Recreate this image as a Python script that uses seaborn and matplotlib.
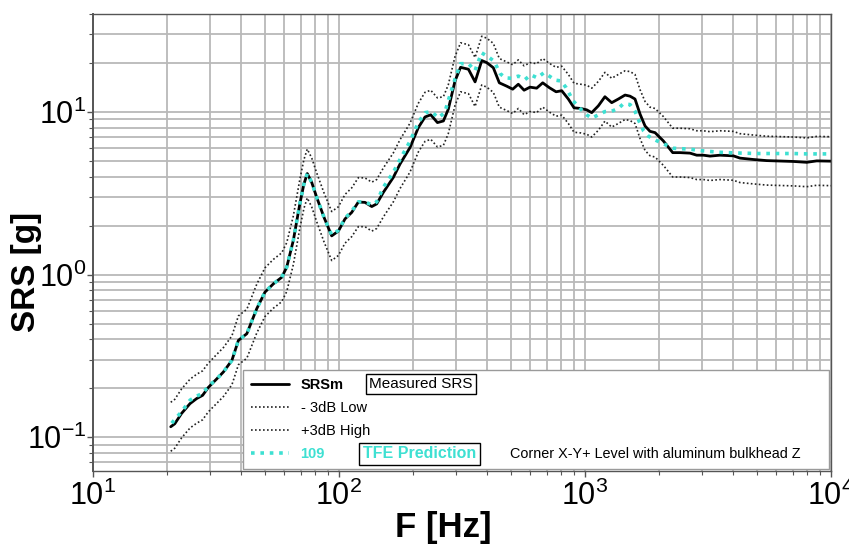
import numpy as np
import pandas as pd
import matplotlib
matplotlib.use("Agg")
import matplotlib.pyplot as plt
import seaborn as sns
from matplotlib.lines import Line2D
from matplotlib.ticker import LogLocator, NullFormatter

# ---------------- data ----------------
freq_m = [20.7, 21.5, 22.9, 24.8, 26.4, 27.9, 29.4, 31.9, 33.9, 36.7, 39.0, 42.2,
          46.3, 50.0, 54.1, 58.5, 61.3, 65.2, 69.3, 72.0, 74.3, 77.5, 81.2, 86.9,
          93.4, 99.4, 105.8, 112.6, 119.8, 127.5, 135.9, 142.3, 151.4, 166.3, 177.0,
          194.4, 210.1, 223.7, 236.0, 251.3, 265.7, 278.2, 296.2, 312.0, 335.9, 357.4,
          380.5, 398.6, 423.9, 448.4, 480.6, 508.3, 535.7, 565.4, 597.6, 636.1, 673.2,
          716.1, 762.8, 804.4, 855.7, 902.3, 961.0, 1016, 1065, 1133, 1205, 1284, 1366,
          1455, 1524, 1597, 1674, 1754, 1837, 1926, 2081, 2273, 2434, 2672, 2845, 3027,
          3222, 3539, 4010, 4266, 4831, 5479, 6211, 7034, 7962, 8750, 10000]

srs_measured = [0.116, 0.121, 0.140, 0.161, 0.173, 0.181, 0.202, 0.229, 0.252, 0.297,
                0.394, 0.433, 0.617, 0.780, 0.877, 0.962, 1.11, 1.62, 2.72, 3.60, 4.18,
                3.68, 2.98, 2.25, 1.73, 1.85, 2.20, 2.41, 2.79, 2.78, 2.62, 2.72, 3.20,
                3.96, 4.78, 6.04, 8.01, 9.31, 9.60, 8.60, 8.80, 10.4, 15.5, 18.8, 18.3,
                15.3, 20.7, 20.1, 18.7, 15.1, 14.4, 13.8, 14.8, 13.6, 14.2, 14.0, 15.1,
                14.1, 13.3, 13.5, 12.0, 10.6, 10.5, 10.3, 9.9, 10.9, 12.4, 11.4, 12.0,
                12.7, 12.5, 12.0, 9.7, 8.2, 7.6, 7.46, 6.64, 5.62, 5.62, 5.58, 5.42, 5.42,
                5.35, 5.42, 5.37, 5.20, 5.10, 5.02, 4.99, 4.96, 4.90, 5.00, 4.98]

srs_low = [0.082, 0.0856, 0.099, 0.114, 0.122, 0.128, 0.143, 0.162, 0.178, 0.210,
           0.279, 0.306, 0.437, 0.552, 0.621, 0.681, 0.786, 1.15, 1.92, 2.55, 2.96,
           2.60, 2.11, 1.59, 1.22, 1.31, 1.56, 1.71, 1.97, 1.97, 1.85, 1.92, 2.26,
           2.80, 3.38, 4.27, 5.67, 6.59, 6.79, 6.09, 6.23, 7.36, 10.97, 13.3, 12.95,
           10.8, 14.65, 14.2, 13.2, 10.7, 10.2, 9.77, 10.5, 9.62, 10.05, 9.91, 10.7,
           9.98, 9.41, 9.55, 8.49, 7.50, 7.43, 7.29, 7.01, 7.71, 8.78, 8.07, 8.49,
           8.99, 8.85, 8.49, 6.86, 5.80, 5.38, 5.28, 4.70, 3.98, 3.98, 3.95, 3.84, 3.84,
           3.79, 3.84, 3.80, 3.68, 3.61, 3.55, 3.53, 3.51, 3.47, 3.54, 3.52]

srs_high = [0.164, 0.171, 0.198, 0.2275, 0.244, 0.256, 0.285, 0.324, 0.356, 0.420,
            0.557, 0.612, 0.872, 1.10, 1.24, 1.36, 1.57, 2.29, 3.84, 5.09, 5.91,
            5.20, 4.21, 3.18, 2.44, 2.61, 3.11, 3.41, 3.94, 3.93, 3.70, 3.84, 4.52,
            5.60, 6.75, 8.53, 11.3, 13.2, 13.6, 12.2, 12.4, 14.7, 21.9, 26.6, 25.9,
            21.6, 29.2, 28.4, 26.4, 21.3, 20.3, 19.5, 20.9, 19.2, 20.1, 19.8, 21.3,
            19.9, 18.8, 19.1, 17.0, 15.0, 14.8, 14.6, 14.0, 15.4, 17.5, 16.1, 17.0,
            17.9, 17.7, 17.0, 13.7, 11.6, 10.7, 10.5, 9.38, 7.94, 7.94, 7.88, 7.66, 7.66,
            7.56, 7.66, 7.59, 7.35, 7.21, 7.09, 7.05, 7.01, 6.92, 7.07, 7.04]

freq_tfe = [20.9, 21.9, 22.9, 24.8, 26.4, 27.9, 29.4, 31.9, 33.9, 36.7, 39.0, 42.2,
            46.3, 50.0, 54.1, 58.5, 61.3, 65.2, 69.3, 72.0, 74.3, 77.5, 81.2, 86.9,
            93.4, 99.4, 105.8, 112.6, 119.8, 127.5, 135.9, 142.3, 151.4, 166.3, 177.0,
            194.4, 210, 224, 238, 253, 269, 283, 296, 312, 336, 357, 380, 406, 427, 452,
            474, 502, 536, 570, 602, 640, 680, 716, 756, 798, 838, 895, 955, 1016, 1065,
            1133, 1205, 1284, 1366, 1430, 1524, 1597, 1668, 1730, 1810, 1900, 2020, 2290,
            2672, 3000, 3500, 4000, 5000, 6000, 7000, 8000, 9000, 10000]

tfe_prediction = [0.122, 0.133, 0.143, 0.169, 0.179, 0.186, 0.205, 0.229, 0.252, 0.297,
                  0.394, 0.433, 0.617, 0.780, 0.877, 0.962, 1.11, 1.62, 2.72, 3.60, 4.18,
                  3.68, 2.98, 2.25, 1.75, 1.87, 2.22, 2.45, 2.80, 2.80, 2.68, 2.80, 3.44,
                  4.25, 5.10, 6.60, 8.60, 9.90, 10.05, 9.20, 9.90, 12.8, 15.9, 19.8, 19.8,
                  17.9, 23.1, 21.7, 20.5, 17.2, 16.2, 16.1, 16.6, 15.8, 16.9, 16.2, 17.4,
                  16.6, 15.7, 15.5, 14.1, 11.7, 10.5, 9.6, 9.15, 9.6, 10.05, 10.1, 10.5,
                  11.2, 11.1, 10.1, 8.6, 7.65, 7.1, 6.8, 6.5, 5.98, 5.9, 5.77, 5.65, 5.6,
                  5.55, 5.55, 5.55, 5.52, 5.52, 5.52]

x_ticks = [10, 100, 1000, 10000]
x_tick_labels = ["$10^{1}$", "$10^{2}$", "$10^{3}$", "$10^{4}$"]
y_ticks = [0.1, 1, 10]
y_tick_labels = ["$10^{-1}$", "$10^{0}$", "$10^{1}$"]
legend_labels = ["SRSm", "- 3dB Low", "+3dB High", "109"]

df_m = pd.DataFrame({"F": freq_m, "SRSm": srs_measured, "Low": srs_low, "High": srs_high})
df_t = pd.DataFrame({"F": freq_tfe, "TFE": tfe_prediction})

# ---------------- style ----------------
sns.set_theme(style="whitegrid")
plt.rcParams["font.family"] = ["Liberation Sans", "DejaVu Sans"]
plt.rcParams["mathtext.fontset"] = "custom"
plt.rcParams["mathtext.rm"] = "Liberation Sans"
plt.rcParams["mathtext.it"] = "Liberation Sans:italic"
plt.rcParams["mathtext.bf"] = "Liberation Sans:bold"
plt.rcParams["text.color"] = "black"
plt.rcParams["axes.labelcolor"] = "black"
plt.rcParams["xtick.labelcolor"] = "black"
plt.rcParams["ytick.labelcolor"] = "black"

CYAN = "#3ee0d2"
GRID = "#b9b9b9"

fig = plt.figure(figsize=(8.49, 5.45), dpi=100)
fig.patch.set_facecolor("white")
ax = fig.add_axes([93 / 849, 1 - 471 / 545, (831 - 93) / 849, (471 - 14) / 545])
ax.set_facecolor("white")

sns.lineplot(data=df_m, x="F", y="Low", ax=ax, color="#222222", lw=1.2,
             linestyle=(0, (1, 1.4)), estimator=None, sort=False)
sns.lineplot(data=df_m, x="F", y="High", ax=ax, color="#222222", lw=1.2,
             linestyle=(0, (1, 1.4)), estimator=None, sort=False)
sns.lineplot(data=df_m, x="F", y="SRSm", ax=ax, color="black", lw=2.0,
             estimator=None, sort=False)
sns.lineplot(data=df_t, x="F", y="TFE", ax=ax, color=CYAN, lw=2.6,
             linestyle=(0, (1, 1.6)), estimator=None, sort=False)

ax.set_xscale("log")
ax.set_yscale("log")

ax.xaxis.set_major_locator(LogLocator(base=10, numticks=10))
ax.xaxis.set_minor_locator(LogLocator(base=10, subs=np.arange(2, 10), numticks=40))
ax.yaxis.set_major_locator(LogLocator(base=10, numticks=10))
ax.yaxis.set_minor_locator(LogLocator(base=10, subs=np.arange(2, 10), numticks=40))
ax.set_xticks(x_ticks)
ax.set_xticklabels(x_tick_labels)
ax.set_yticks(y_ticks)
ax.set_yticklabels(y_tick_labels)
ax.xaxis.set_minor_formatter(NullFormatter())
ax.yaxis.set_minor_formatter(NullFormatter())
ax.set_xlim(10, 10000)
ax.set_ylim(0.062, 40)

ax.grid(True, which="both", color=GRID, lw=1.3)
ax.tick_params(axis="both", which="major", labelsize=22, length=4, width=1,
               color="#555555", labelcolor="black", direction="out")
ax.tick_params(axis="both", which="minor", length=3, width=0.8,
               color="#555555", direction="out")
ax.tick_params(axis="x", which="major", pad=3)
ax.tick_params(axis="y", which="major", pad=0.8)
ax.tick_params(left=True, bottom=True, which="both")

for s in ax.spines.values():
    s.set_color("#555555")
    s.set_linewidth(1.0)
ax.spines["left"].set_linewidth(1.4)

ax.set_xlabel("F [Hz]", fontsize=25, fontweight="bold", va="center", color="black")
ax.xaxis.set_label_coords((443 - 93) / 738, (471 - 527) / 457)
ax.set_ylabel("SRS [g]", fontsize=24, fontweight="bold", va="center", color="black")
ax.yaxis.set_label_coords((27 - 93) / 738, (471 - 272) / 457)

# ---------------- legend ----------------
handles = [
    Line2D([], [], color="black", lw=2.0),
    Line2D([], [], color="#222222", lw=1.2, linestyle=(0, (1, 1.4))),
    Line2D([], [], color="#222222", lw=1.2, linestyle=(0, (1, 1.4))),
    Line2D([], [], color=CYAN, lw=2.6, linestyle=(0, (1, 1.6))),
]
leg = ax.legend(handles, legend_labels, loc="lower left",
                bbox_to_anchor=(150 / 738, 2 / 457, 586 / 738, 98 / 457),
                mode="expand", frameon=True, fancybox=False, framealpha=1,
                edgecolor="#9a9a9a", fontsize=10.5, handlelength=2.6,
                handletextpad=0.8, labelspacing=0.62, borderpad=0.55,
                borderaxespad=0)
leg.get_frame().set_linewidth(1.0)
texts = leg.get_texts()
for t in texts:
    t.set_color("black")
texts[0].set_fontweight("bold")
texts[3].set_fontweight("bold")
texts[3].set_color(CYAN)

box = dict(boxstyle="square,pad=0.22", fc="white", ec="black", lw=1.0)
ax.text((369 - 93) / 738, (471 - 384) / 457, "Measured SRS", transform=ax.transAxes,
        fontsize=11, va="center", ha="left", bbox=box, zorder=10, color="black")
ax.text((363 - 93) / 738, (471 - 454) / 457, "TFE Prediction", transform=ax.transAxes,
        fontsize=11.5, fontweight="bold", color=CYAN, va="center", ha="left",
        bbox=box, zorder=10)
ax.text((510 - 93) / 738, (471 - 454) / 457,
        "Corner X-Y+ Level with aluminum bulkhead Z", transform=ax.transAxes,
        fontsize=10.4, va="center", ha="left", zorder=10, color="black")

fig.savefig("out.png", dpi=100, facecolor="white")
